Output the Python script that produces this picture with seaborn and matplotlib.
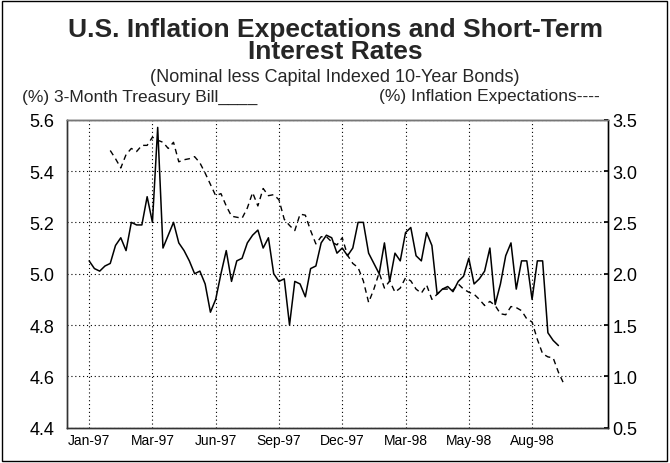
import numpy as np
import pandas as pd
import matplotlib
matplotlib.use("Agg")
import matplotlib.pyplot as plt
import seaborn as sns
from matplotlib.patches import Rectangle

tbill = [5.05, 5.02, 5.01, 5.03, 5.04, 5.11, 5.14, 5.09, 5.20, 5.19,
         5.19, 5.30, 5.20, 5.57, 5.10, 5.15, 5.20, 5.12, 5.09, 5.05,
         5.00, 5.01, 4.96, 4.85, 4.90, 5.00, 5.09, 4.97, 5.05, 5.06,
         5.12, 5.15, 5.17, 5.10, 5.14, 5.00, 4.97, 4.98, 4.80, 4.97,
         4.96, 4.91, 5.02, 5.03, 5.12, 5.15, 5.14, 5.08, 5.10, 5.07,
         5.10, 5.20, 5.20, 5.08, 5.04, 5.00, 5.12, 4.97, 5.08, 5.05,
         5.16, 5.18, 5.07, 5.05, 5.16, 5.11, 4.92, 4.94, 4.95, 4.93,
         4.97, 4.99, 5.06, 4.96, 4.98, 5.01, 5.10, 4.88, 4.96, 5.07,
         5.12, 4.94, 5.05, 5.05, 4.90, 5.05, 5.05, 4.77, 4.74, 4.72]

inflation = [np.nan, np.nan, np.nan, np.nan,
             3.20, 3.12, 3.03, 3.16, 3.22, 3.19, 3.25, 3.25, 3.33, 3.30,
             3.28, 3.22, 3.28, 3.09, 3.11, 3.12, 3.14, 3.08, 2.98, 2.87,
             2.76, 2.78, 2.66, 2.56, 2.55, 2.54, 2.64, 2.79, 2.66, 2.83,
             2.76, 2.77, 2.72, 2.53, 2.47, 2.42, 2.58, 2.57, 2.42, 2.29,
             2.36, 2.36, 2.31, 2.28, 2.35, 2.18, 2.10, 2.06, 1.93, 1.72,
             1.85, 2.01, 1.86, 1.93, 1.82, 1.86, 1.96, 1.93, 1.85, 1.81,
             1.89, 1.75, 1.80, 1.85, 1.85, 1.84, 1.90, 1.85, 1.82, 1.80,
             1.75, 1.69, 1.73, 1.69, 1.61, 1.60, 1.68, 1.67, 1.64, 1.56,
             1.53, 1.36, 1.22, 1.19, 1.18, 1.04, 0.93]

tick_labels = ["Jan-97", "Mar-97", "Jun-97", "Sep-97", "Dec-97",
               "Mar-98", "May-98", "Aug-98"]
tick_step = 12  # observations between labelled ticks

left_ticks = [4.4, 4.6, 4.8, 5.0, 5.2, 5.4, 5.6]
right_ticks = [0.5, 1.0, 1.5, 2.0, 2.5, 3.0, 3.5]

df1 = pd.DataFrame({"x": np.arange(len(tbill)), "y": tbill})
df2 = pd.DataFrame({"x": np.arange(len(inflation)), "y": inflation})

# ---- styling ----
sns.set_theme(style="white")
plt.rcParams["font.family"] = ["Liberation Sans", "DejaVu Sans"]

fig = plt.figure(figsize=(6.7, 4.64), dpi=100)
ax = fig.add_axes([67 / 670, 1 - 428.7 / 464, (608 - 67) / 670, (428.7 - 120.7) / 464])
ax2 = ax.twinx()

sns.lineplot(data=df1, x="x", y="y", ax=ax, color="black", linewidth=1.1)
sns.lineplot(data=df2, x="x", y="y", ax=ax2, color="black", linewidth=1.0)
ax2.lines[0].set_dashes((4, 3))

ax.set_xlim(-4.2, 98.4)
ax.set_ylim(4.4, 5.6)
ax2.set_ylim(0.5, 3.5)

ax.set_xticks([i * tick_step for i in range(len(tick_labels))])
ax.set_xticklabels(tick_labels, fontsize=10)
ax.set_yticks(left_ticks)
ax.set_yticklabels([f"{v:.1f}" for v in left_ticks], fontsize=13)
ax2.set_yticks(right_ticks)
ax2.set_yticklabels([f"{v:.1f}" for v in right_ticks], fontsize=13)

ax.set_xlabel("")
ax.set_ylabel("")
ax2.set_ylabel("")

ax.grid(True, axis="both", linestyle=(0, (1, 2.5)), color="black", linewidth=0.8)
ax.tick_params(axis="x", length=0, pad=4, colors="black")
ax.tick_params(axis="y", length=0, pad=9, colors="black")
ax2.tick_params(axis="y", length=3, direction="in", pad=3, colors="black")

for a in (ax, ax2):
    for s in a.spines.values():
        s.set_color("#333333")
        s.set_linewidth(1.0)
ax2.spines["top"].set_color("#777777")
ax2.spines["right"].set_color("black")

# ---- texts ----
fig.text(0.5, 1 - 30 / 464, "U.S. Inflation Expectations and Short-Term",
         ha="center", va="center", fontsize=19, fontweight="bold")
fig.text(0.5, 1 - 52 / 464, "Interest Rates",
         ha="center", va="center", fontsize=19, fontweight="bold")
fig.text(0.5, 1 - 77 / 464, "(Nominal less Capital Indexed 10-Year Bonds)",
         ha="center", va="center", fontsize=13)
fig.text(22 / 670, 1 - 97 / 464, "(%) 3-Month Treasury Bill____",
         ha="left", va="center", fontsize=12.5)
fig.text(600 / 670, 1 - 97 / 464, "(%) Inflation Expectations----",
         ha="right", va="center", fontsize=12.5)

fig.patches.append(Rectangle((2 / 670, 2 / 464), 665 / 670, 460 / 464,
                             transform=fig.transFigure, fill=False,
                             edgecolor="black", linewidth=1.0))

fig.savefig("out.png", dpi=100)
